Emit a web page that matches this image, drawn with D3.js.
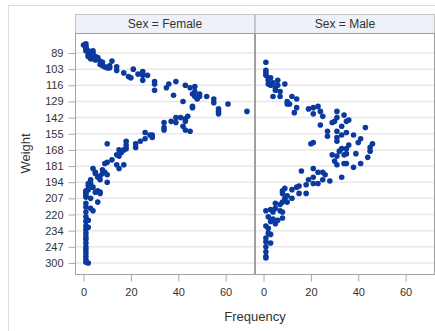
<!DOCTYPE html>
<html>
<head>
<meta charset="utf-8">
<script src="https://cdn.jsdelivr.net/npm/d3@7"></script>
<style>
  body { margin: 0; background: #fff; }
  text { font-family: "Liberation Sans", Arial, sans-serif; fill: #333; }
</style>
</head>
<body>
<script>
// weight categories shown on the y axis
const weightTicks = [89, 103, 116, 129, 142, 155, 168, 181, 194, 207, 220, 234, 247, 300];
const freqTicks = [0, 20, 40, 60];
const panels = ["Female", "Male"];

// [frequency, weight]
const female = [
  [1,81],[1,83],[1,85],[1,87],[2,87],[4,87],[4,89],[3,90],[2,92],[3,94],[5,92],[6,93],[4,93],
  [0,82],[1,84],[2,89],[2,91],[3,88],[4,91],[4,94],[5,95],[7,96],[8,100],[11,100],[11,102],[11,101],
  [7,99],[8,97],[9,101],[10,102],[12,96],[14,101],[14,104],[17,106],[19,109],[20,110],[21,103],
  [23,107],[25,105],[25,108],[25,112],[27,108],[30,113],[30,115],[30,120],[35,118],[36,115],
  [39,113],[38,124],[43,116],[45,118],[47,117],[47,121],[46,123],[49,123],[47,125],[48,127],
  [49,125],[52,125],[55,127],[55,130],[57,135],[57,137],[57,139],[61,131],[69,137],[42,129],
  [46,133],[46,134],
  [44,141],[43,143],[43,145],[42,149],[43,152],[45,153],[41,142],[39,142],[39,146],[37,145],
  [34,146],[34,150],[34,152],[29,156],[29,158],[28,156],[26,154],[26,159],[24,161],[22,163],
  [22,166],[18,161],[18,164],[18,167],[17,168],[16,170],[15,168],[14,172],[15,173],[17,180],
  [14,180],[15,183],[10,163],[10,178],[12,176],[9,179],[9,186],[10,188],[10,194],[4,183],
  [5,187],[6,190],[7,192],[3,192],[3,195],[2,197],[2,200],[4,198],[6,201],[7,202],[1,201],
  [1,203],[5,186],[8,184],[8,187],[7,189],[2,195],[3,198],[5,202],[7,203],[1,202],[1,205],
  [1,206],[3,207],[6,210],[1,211],[1,214],[3,215],[4,217],[1,218],[1,222],[2,225],[1,226],
  [1,230],[2,231],[1,233],[1,236],[1,239],[1,241],[1,244],[1,248],[1,256],[1,267],[1,278],
  [1,289],[1,298],[2,300]
];

const male = [
  [1,97],[1,104],[1,106],[1,108],[2,110],[3,110],[2,112],[2,115],[3,116],[4,114],[5,118],
  [6,112],[6,116],[5,120],[4,125],[7,121],[7,125],[9,115],[10,129],[11,131],[10,131],[12,125],
  [14,127],[14,134],[13,138],[19,135],[21,134],[21,139],[23,133],[24,137],[25,141],[24,148],
  [27,153],[27,157],[30,145],[31,142],[31,137],[29,146],[31,153],[31,158],[33,149],[34,140],
  [35,145],[36,144],[33,156],[35,154],[38,156],[41,159],[40,162],[43,150],[46,163],[45,166],
  [21,162],[20,163],[33,167],[36,164],[35,167],
  [31,161],[45,169],[32,169],[29,172],[31,173],[30,177],[31,180],[34,172],[35,171],[39,171],
  [34,179],[35,179],[38,182],[41,179],[44,174],[33,190],[16,185],[21,183],[23,186],[25,186],
  [26,188],[25,192],[28,193],[21,190],[21,195],[19,192],[18,196],[23,195],[15,197],[14,198],
  [12,200],[18,203],[15,203],[9,199],[8,201],[8,203],[10,205],[12,207],[9,207],[8,210],
  [10,210],[7,212],[5,211],[5,215],[7,217],[8,218],[8,223],[1,217],[3,216],[4,218],[2,222],
  [4,224],[3,226],[6,225],[5,228],[1,230],[2,232],[2,236],[3,237],[1,240],[3,244],[1,243],
  [1,247],[1,263],[1,279],[1,284]
];

document.addEventListener("DOMContentLoaded", function() {
    const width = 435, height = 331;
    const plotTop = 33, plotBottom = 274, headerTop = 14;
    const panelW = 180;
    const panelX = [75, 255];
    const dotColor = "#0b3a9e";

    const svg = d3.select("body").append("svg")
        .attr("width", width)
        .attr("height", height);

    // outer frame
    svg.append("rect")
        .attr("x", 8.5).attr("y", 5.5)
        .attr("width", 460).attr("height", 360)
        .attr("fill", "none")
        .attr("stroke", "#dcdcdc");

    // discrete weight axis: equally spaced categories
    const y = d3.scaleLinear()
        .domain(weightTicks)
        .range(weightTicks.map((d, i) => 53 + i * 16.15));

    const x = d3.scaleLinear().domain([-3.6, 72.4]).range([0, panelW]);

    const data = {Female: female, Male: male};

    panels.forEach((name, pi) => {
        const g = svg.append("g").attr("transform", `translate(${panelX[pi]},0)`);

        // grid lines
        g.append("g").selectAll("line")
            .data(weightTicks)
            .join("line")
            .attr("x1", 0).attr("x2", panelW)
            .attr("y1", d => y(d)).attr("y2", d => y(d))
            .attr("stroke", "#e8e8e8")
            .attr("stroke-width", 1.5);

        // header
        g.append("rect")
            .attr("x", 0.5).attr("y", headerTop + 0.5)
            .attr("width", panelW - 1).attr("height", plotTop - headerTop)
            .attr("fill", "#eef1f8")
            .attr("stroke", "#c4c4c4");
        g.append("text")
            .attr("x", panelW / 2).attr("y", headerTop + 14)
            .attr("text-anchor", "middle")
            .attr("font-size", 12)
            .text("Sex = " + name);

        // points
        g.append("g").selectAll("circle")
            .data(data[name])
            .join("circle")
            .attr("cx", d => x(d[0]))
            .attr("cy", d => y(d[1]))
            .attr("r", 2.8)
            .attr("fill", dotColor);

        // panel frame
        g.append("rect")
            .attr("x", 0.5).attr("y", plotTop + 0.5)
            .attr("width", panelW - 1).attr("height", plotBottom - plotTop)
            .attr("fill", "none")
            .attr("stroke", "#a0a0a0");

        // x axis
        const xAxis = g.append("g")
            .attr("transform", `translate(0,${plotBottom + 0.5})`)
            .call(d3.axisBottom(x).tickValues(freqTicks).tickSize(7).tickSizeOuter(0).tickPadding(7));
        xAxis.select(".domain").remove();
        xAxis.selectAll("line").attr("stroke", "#a8a8a8");
        xAxis.selectAll("text").attr("font-size", 11).attr("fill", "#333")
            .attr("font-family", "Liberation Sans, Arial, sans-serif");
    });

    // y axis
    const yAxis = svg.append("g")
        .attr("transform", `translate(${panelX[0] + 0.5},0)`)
        .call(d3.axisLeft(y).tickValues(weightTicks).tickFormat(d3.format("d"))
            .tickSize(7).tickSizeOuter(0).tickPadding(5));
    yAxis.select(".domain").remove();
    yAxis.selectAll("line").attr("stroke", "#a8a8a8");
    yAxis.selectAll("text").attr("font-size", 11).attr("fill", "#333")
        .attr("font-family", "Liberation Sans, Arial, sans-serif");

    // axis titles
    svg.append("text")
        .attr("transform", `translate(30,${(plotTop + plotBottom) / 2}) rotate(-90)`)
        .attr("text-anchor", "middle")
        .attr("font-size", 13)
        .text("Weight");

    svg.append("text")
        .attr("x", 255).attr("y", 321)
        .attr("text-anchor", "middle")
        .attr("font-size", 13)
        .text("Frequency");
});
</script>
</body>
</html>
